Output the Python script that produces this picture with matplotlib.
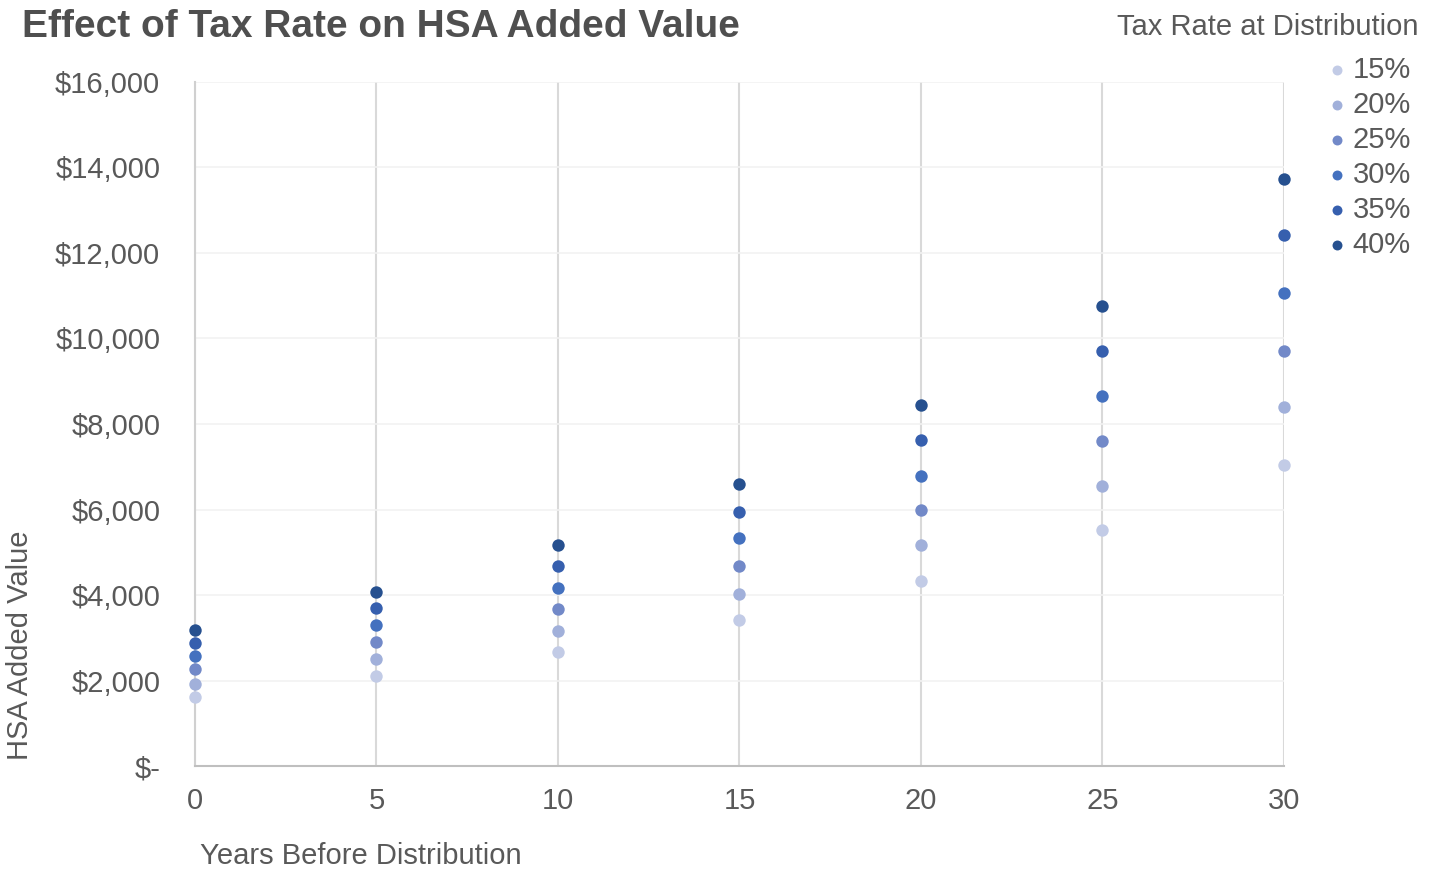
import matplotlib
matplotlib.use("Agg")
import matplotlib.pyplot as plt

plt.rcParams['font.family'] = ['Liberation Sans', 'DejaVu Sans']

years = [0, 5, 10, 15, 20, 25, 30]
rates = ["15%", "20%", "25%", "30%", "35%", "40%"]
v15 = [1610, 2100, 2670, 3410, 4330, 5520, 7040]
v20 = [1920, 2500, 3160, 4020, 5170, 6550, 8400]
v25 = [2270, 2900, 3670, 4680, 5990, 7600, 9710]
v30 = [2570, 3300, 4160, 5330, 6780, 8650, 11060]
v35 = [2880, 3700, 4680, 5940, 7630, 9710, 12420]
v40 = [3180, 4070, 5170, 6600, 8440, 10760, 13730]
series = [v15, v20, v25, v30, v35, v40]
colors = ["#c2cbe6", "#a1b0da", "#7289c8", "#4471bf", "#365fae", "#26508f"]

yticks = [0, 2000, 4000, 6000, 8000, 10000, 12000, 14000, 16000]
ytick_labels = ["$-", "$2,000", "$4,000", "$6,000", "$8,000", "$10,000", "$12,000", "$14,000", "$16,000"]
xticks = [0, 5, 10, 15, 20, 25, 30]

fig = plt.figure(figsize=(14.37, 8.71), dpi=100)
ax = fig.add_axes([0.1357, 0.1205, 0.7578, 0.7854])

for vals, c, lab in zip(series, colors, rates):
    ax.scatter(years, vals, s=80, color=c, label=lab, zorder=3, linewidths=0, clip_on=False)

ax.set_xlim(0, 30)
ax.set_ylim(0, 16000)
ax.set_xticks(xticks)
ax.set_xticklabels([str(x) for x in xticks])
ax.set_yticks(yticks)
ax.set_yticklabels(ytick_labels)
ax.tick_params(axis='both', length=0, labelsize=21, colors="#595959")
ax.tick_params(axis='x', pad=15)
ax.tick_params(axis='y', pad=25)
for lbl in ax.get_yticklabels():
    lbl.set_horizontalalignment('right')

ax.grid(axis='x', color="#d9d9d9", linewidth=1.5, zorder=0)
ax.grid(axis='y', color="#f2f2f2", linewidth=1.2, zorder=0)
for s in ['top', 'right']:
    ax.spines[s].set_visible(False)
ax.spines['left'].set_color("#d0d0d0")
ax.spines['left'].set_linewidth(1.5)
ax.spines['bottom'].set_color("#bfbfbf")
ax.spines['bottom'].set_linewidth(1.5)
ax.set_axisbelow(True)

fig.text(0.0153, 0.969, "Effect of Tax Rate on HSA Added Value", fontsize=28,
         fontweight='bold', color="#4f4f4f", ha='left', va='center')
fig.text(0.987, 0.969, "Tax Rate at Distribution", fontsize=21, color="#595959",
         ha='right', va='center')
fig.text(0.139, 0.017, "Years Before Distribution", fontsize=21, color="#595959",
         ha='left', va='center')
fig.text(0.004, 0.128, "HSA Added Value", fontsize=21, color="#595959",
         rotation=90, ha='left', va='bottom')

leg = ax.legend(loc='upper left', bbox_to_anchor=(0.92, 0.936),
                bbox_transform=fig.transFigure, frameon=False, fontsize=21,
                handletextpad=0.05, labelspacing=0.24, borderaxespad=0,
                borderpad=0, handlelength=1.0, markerscale=0.8)
for t in leg.get_texts():
    t.set_color("#595959")

fig.savefig("out.png", dpi=100)
